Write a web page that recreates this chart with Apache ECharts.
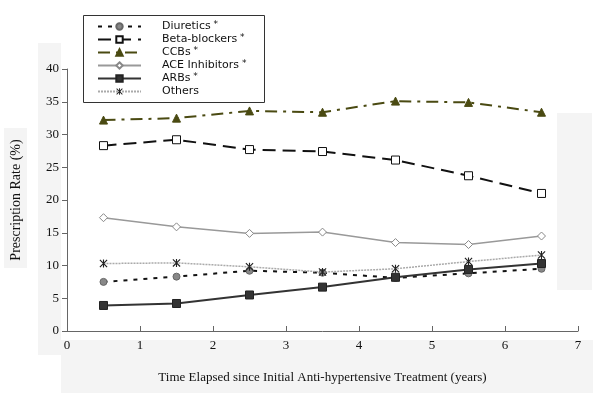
<!DOCTYPE html>
<html>
<head>
<meta charset="utf-8">
<script src="https://cdn.jsdelivr.net/npm/echarts@6/dist/echarts.min.js"></script>
<style>html,body{margin:0;padding:0;background:#fff}#c{width:600px;height:415px}</style>
</head>
<body>
<div id="c"></div>
<script>
var years = [0.5, 1.5, 2.5, 3.5, 4.5, 5.5, 6.5];
var diuretics = [7.5, 8.3, 9.2, 8.9, 8.1, 8.8, 9.5];
var betaBlockers = [28.3, 29.2, 27.7, 27.4, 26.1, 23.7, 21.0];
var ccbs = [32.2, 32.5, 33.6, 33.4, 35.1, 34.9, 33.4];
var aceInhibitors = [17.3, 15.9, 14.9, 15.1, 13.5, 13.2, 14.5];
var arbs = [3.9, 4.2, 5.5, 6.7, 8.2, 9.4, 10.3];
var others = [10.3, 10.4, 9.8, 9.0, 9.5, 10.6, 11.6];
var seriesNames = ['Diuretics', 'Beta-blockers', 'CCBs', 'ACE Inhibitors', 'ARBs', 'Others'];
var starred = ['Diuretics', 'Beta-blockers', 'CCBs', 'ACE Inhibitors', 'ARBs'];
var yTicks = [0, 5, 10, 15, 20, 25, 30, 35, 40];
var xTicks = [0, 1, 2, 3, 4, 5, 6, 7];

function pts(v) { return years.map(function (x, i) { return [x, v[i]]; }); }
var asterisk = 'path://M4.3,0L5.7,0L5.7,10L4.3,10Z M0,1L1,0L10,9L9,10Z M9,0L10,1L1,10L0,9Z';
var serif = '"Liberation Serif", "Times New Roman", serif';
var sans = '"DejaVu Sans", Verdana, sans-serif';

var chart = echarts.init(document.getElementById('c'), null, {renderer: 'canvas'});
chart.setOption({
  animation: false,
  backgroundColor: '#fff',
  graphic: [
    {type: 'rect', z: -1, silent: true, shape: {x: 4, y: 128, width: 23, height: 140}, style: {fill: '#f4f4f4'}},
    {type: 'rect', z: -1, silent: true, shape: {x: 38, y: 43, width: 23, height: 312}, style: {fill: '#f4f4f4'}},
    {type: 'rect', z: -1, silent: true, shape: {x: 61, y: 340, width: 532, height: 53}, style: {fill: '#f4f4f4'}},
    {type: 'rect', z: -1, silent: true, shape: {x: 557, y: 113, width: 35, height: 177}, style: {fill: '#f4f4f4'}},
    {type: 'rect', z: 1, silent: true, shape: {x: 83.5, y: 15.5, width: 181, height: 87}, style: {fill: '#fff', stroke: '#333', lineWidth: 1}}
  ],
  grid: {left: 67, right: 22, top: 69, bottom: 84, containLabel: false},
  legend: {
    orient: 'vertical', left: 83, top: 20, padding: [0, 2, 0, 14],
    itemWidth: 43, itemHeight: 8, itemGap: 0,
    data: seriesNames,
    formatter: function (n) { return starred.indexOf(n) >= 0 ? n + '{s| *}' : n; },
    textStyle: {fontFamily: sans, fontSize: 11, lineHeight: 13, color: '#111', padding: [0, 0, 0, 16],
      rich: {s: {fontFamily: sans, fontSize: 9, lineHeight: 13, verticalAlign: 'top', color: '#111'}}}
  },
  xAxis: {
    type: 'value', min: 0, max: 7, interval: 1,
    name: 'Time Elapsed since Initial Anti-hypertensive Treatment (years)',
    nameLocation: 'middle', nameGap: 40,
    nameTextStyle: {fontFamily: serif, fontSize: 13, color: '#111'},
    axisLine: {lineStyle: {color: '#666', width: 1}},
    axisTick: {inside: true, length: 5, lineStyle: {color: '#666'}},
    axisLabel: {fontFamily: serif, fontSize: 13, color: '#111', margin: 8, formatter: function (v) { return xTicks.indexOf(v) >= 0 ? String(v) : ''; }},
    splitLine: {show: false}
  },
  yAxis: {
    type: 'value', min: 0, max: 40, interval: 5,
    name: 'Prescription Rate (%)', nameLocation: 'middle', nameGap: 44, nameRotate: 90,
    nameTextStyle: {fontFamily: serif, fontSize: 14, color: '#111'},
    axisLine: {show: true, lineStyle: {color: '#666', width: 1}},
    axisTick: {show: true, inside: false, length: 5, lineStyle: {color: '#666'}},
    axisLabel: {fontFamily: serif, fontSize: 13, color: '#111', margin: 8, formatter: function (v) { return yTicks.indexOf(v) >= 0 ? String(v) : ''; }},
    splitLine: {show: false}
  },
  series: [
    {name: 'Diuretics', type: 'line', data: pts(diuretics), symbol: 'circle', symbolSize: 7,
      lineStyle: {color: '#111', width: 2, type: [4, 6]},
      itemStyle: {color: '#888', borderColor: '#666', borderWidth: 1}},
    {name: 'Beta-blockers', type: 'line', data: pts(betaBlockers), symbol: 'rect', symbolSize: 8,
      lineStyle: {color: '#111', width: 2, type: [13, 7]},
      itemStyle: {color: '#fff', borderColor: '#111', borderWidth: 1}},
    {name: 'CCBs', type: 'line', data: pts(ccbs), symbol: 'triangle', symbolSize: 8,
      lineStyle: {color: '#4a4a12', width: 2, type: [12, 6, 3, 6]},
      itemStyle: {color: '#4a4a12', borderColor: '#4a4a12', borderWidth: 1}},
    {name: 'ACE Inhibitors', type: 'line', data: pts(aceInhibitors), symbol: 'diamond', symbolSize: 8,
      lineStyle: {color: '#999', width: 1.5, type: 'solid'},
      itemStyle: {color: '#fff', borderColor: '#888', borderWidth: 1}},
    {name: 'ARBs', type: 'line', data: pts(arbs), symbol: 'rect', symbolSize: 8,
      lineStyle: {color: '#333', width: 2, type: 'solid'},
      itemStyle: {color: '#333', borderColor: '#222', borderWidth: 1}},
    {name: 'Others', type: 'line', data: pts(others), symbol: asterisk, symbolSize: 8,
      lineStyle: {color: '#aaa', width: 1.5, type: [2, 1]},
      itemStyle: {color: '#222', borderWidth: 0}}
  ]
});
</script>
</body>
</html>
